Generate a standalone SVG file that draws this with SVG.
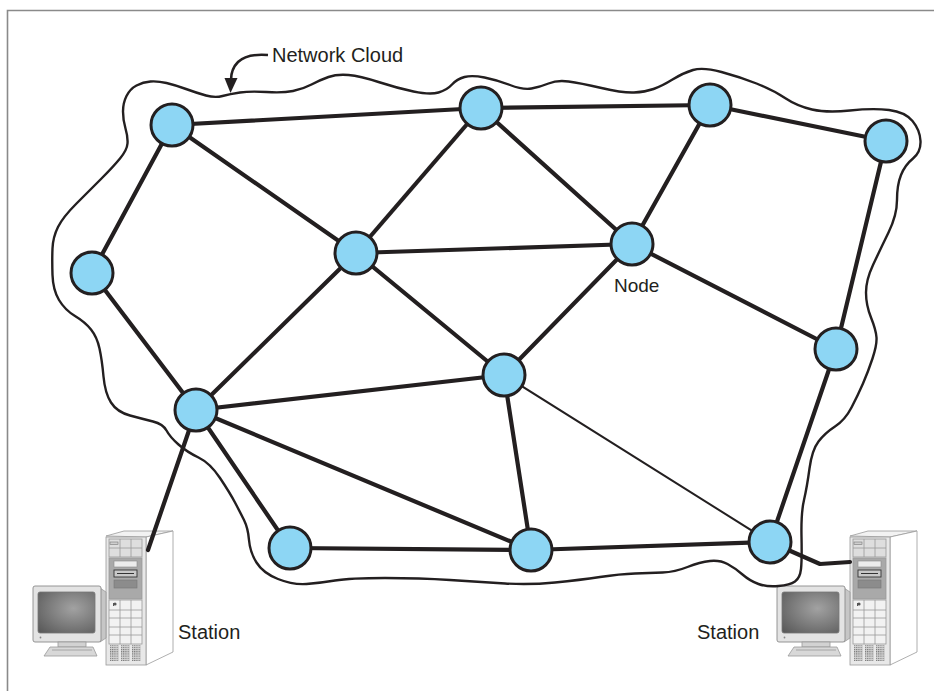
<svg xmlns="http://www.w3.org/2000/svg" xmlns:xlink="http://www.w3.org/1999/xlink" width="934" height="691" viewBox="0 0 934 691">
  <style>
    .edge { stroke: #231f20; stroke-width: 4.2; stroke-linecap: round; fill: none; }
    .edge-thin { stroke: #231f20; stroke-width: 2; stroke-linecap: round; fill: none; }
    .node circle { fill: #8dd6f4; stroke: #231f20; stroke-width: 3; }
    .cloud { fill: none; stroke: #231f20; stroke-width: 2.4; stroke-linejoin: round; }
    .label { font-family: "Liberation Sans", Arial, sans-serif; fill: #231f20; }
    .frame { stroke: #8a8a8a; stroke-width: 1.6; fill: none; }
    .pc-line { stroke: #9a9a9a; stroke-width: 0.8; }
  </style>
  <defs>
    <radialGradient id="screen" cx="0.62" cy="0.4" r="0.85">
      <stop offset="0" stop-color="#a2a2a2"/>
      <stop offset="1" stop-color="#565656"/>
    </radialGradient>
    <pattern id="vent" width="2.2" height="2.2" patternUnits="userSpaceOnUse">
      <rect width="2.2" height="2.2" fill="#d4d4d4"/>
      <rect width="1.1" height="1.1" fill="#6e6e6e"/>
    </pattern>
    <!-- desktop computer: CRT monitor beside a tower case -->
    <g id="pc">
      <!-- tower top and side -->
      <polygon points="106,536 124,531 173,531 146,537" fill="#f2f2f2" class="pc-line"/>
      <polygon points="146,537 173,531 173,652 146,665" fill="#ffffff" class="pc-line"/>
      <!-- tower front -->
      <rect x="106" y="537" width="40" height="128" fill="#e8e8e8" class="pc-line"/>
      <rect x="109" y="539" width="33" height="18" fill="#dedede" class="pc-line"/>
      <line x1="120" y1="539" x2="120" y2="557" class="pc-line"/>
      <line x1="131" y1="539" x2="131" y2="557" class="pc-line"/>
      <line x1="109" y1="548" x2="142" y2="548" class="pc-line"/>
      <rect x="110" y="542" width="8" height="2.5" fill="#cfcfcf" stroke="#777" stroke-width="0.6"/>
      <rect x="109" y="558" width="33" height="41" fill="#a9a9a9" class="pc-line"/>
      <rect x="114" y="561" width="23" height="6" fill="#ececec" stroke="#8a8a8a" stroke-width="0.6"/>
      <rect x="114" y="570" width="23" height="7" fill="#c9c9c9" stroke="#333" stroke-width="0.9"/>
      <line x1="117" y1="573.5" x2="134" y2="573.5" stroke="#333" stroke-width="1"/>
      <rect x="114" y="580" width="23" height="8" fill="#8c8c8c" stroke="#777" stroke-width="0.6"/>
      <rect x="109" y="600" width="33" height="44" fill="#f2f2f2" class="pc-line"/>
      <line x1="120" y1="600" x2="120" y2="644" class="pc-line"/>
      <line x1="131" y1="600" x2="131" y2="644" class="pc-line"/>
      <line x1="109" y1="610" x2="142" y2="610" class="pc-line"/>
      <line x1="109" y1="618" x2="142" y2="618" class="pc-line"/>
      <line x1="109" y1="627" x2="142" y2="627" class="pc-line"/>
      <line x1="109" y1="635" x2="142" y2="635" class="pc-line"/>
      <circle cx="115" cy="604" r="1.6" fill="#555"/>
      <rect x="113" y="603" width="1" height="3" fill="#555"/>
      <rect x="110" y="645" width="9" height="16" fill="url(#vent)"/>
      <rect x="121" y="645" width="9" height="16" fill="url(#vent)"/>
      <rect x="132" y="645" width="9" height="16" fill="url(#vent)"/>
      <!-- monitor -->
      <polygon points="100,588 106,592 106,638 100,642" fill="#c6c6c6" class="pc-line"/>
      <rect x="33" y="586" width="68" height="56" rx="2" fill="#e3e3e3" stroke="#8a8a8a" stroke-width="0.9"/>
      <rect x="38" y="592" width="57" height="41" rx="2" fill="url(#screen)" stroke="#777" stroke-width="0.8"/>
      <circle cx="40.5" cy="637.5" r="0.9" fill="#888"/>
      <rect x="58" y="642" width="28" height="5" fill="#d2d2d2" class="pc-line"/>
      <polygon points="50,647 93,647 97,656 44,656" fill="#d8d8d8" class="pc-line"/>
      <line x1="52" y1="650" x2="92" y2="650" class="pc-line"/>
    </g>
  </defs>

  <!-- page frame -->
  <path class="frame" d="M7.5,691 V10.5 H934"/>

  <!-- stations -->
  <g id="station-left">
    <use xlink:href="#pc" href="#pc"/>
    <text class="label" x="178" y="639" font-size="20">Station</text>
  </g>
  <g id="station-right">
    <use xlink:href="#pc" href="#pc" transform="translate(744,0)"/>
    <text class="label" x="697" y="639" font-size="20">Station</text>
  </g>

  <!-- network cloud boundary -->
  <g id="network-cloud">
    <path class="cloud" d="M123,111.5 Q123,103 126.5,96 Q130,89 136.5,85.5 Q143,82 150.5,81.5 Q158,81 166.5,83 Q175,85 186,89 Q197,93 206,95.5 Q215,98 222.5,96 Q230,94 240,92.5 Q250,91 266.5,92 Q283,93 293,91 Q303,89 311.5,84.5 Q320,80 328.5,77 Q337,74 348.5,75 Q360,76 378.5,82 Q397,88 413.5,91.5 Q430,95 438.5,92.5 Q447,90 452,84.5 Q457,79 464.5,77 Q472,75 484.5,77.5 Q497,80 510,85 Q523,90 531.5,88.5 Q540,87 548.5,83.5 Q557,80 568.5,81.5 Q580,83 601.5,88 Q623,93 634,92.5 Q645,92 653.5,89 Q662,86 672.5,79.5 Q683,73 693,70 Q703,67 721.5,72 Q740,77 756.5,83.5 Q773,90 785,98 Q797,106 812,109.5 Q827,113 850,110.5 Q873,108 889,110 Q905,112 912.5,121 Q920,130 920.5,141 Q921,152 913,158.5 Q905,165 901,175 Q897,185 897,200 Q897,215 888.5,232.5 Q880,250 873,265 Q866,280 866,292.5 Q866,305 871,317.5 Q876,330 876.5,337.5 Q877,345 872.5,358.5 Q868,372 863,383.5 Q858,395 851.5,407.5 Q845,420 835,426.5 Q825,433 818.5,441.5 Q812,450 809.5,468.5 Q807,487 804,500 Q801,513 801.5,536.5 Q802,560 801,569 Q800,578 795,581.5 Q790,585 778.5,586 Q767,587 758.5,584 Q750,581 742.5,574.5 Q735,568 727.5,564 Q720,560 710,561 Q700,562 687.5,567 Q675,572 662.5,572.5 Q650,573 635,573.5 Q620,574 600,577 Q580,580 555,582.5 Q530,585 505,583.5 Q480,582 450,580 Q420,578 385,578 Q350,578 335,580.5 Q320,583 306.5,584 Q293,585 278,579 Q263,573 256.5,562.5 Q250,552 249,540 Q248,528 244,520 Q240,512 235,502.5 Q230,493 220,478 Q210,463 198.5,457.5 Q187,452 178.5,444.5 Q170,437 166.5,430.5 Q163,424 153,421.5 Q143,419 130,415.5 Q117,412 111,402.5 Q105,393 103.5,376.5 Q102,360 99.5,348.5 Q97,337 91,329.5 Q85,322 75,316 Q65,310 59,300 Q53,290 52.5,275 Q52,260 52.5,248.5 Q53,237 58,227 Q63,217 76.5,203.5 Q90,190 101.5,178.5 Q113,167 120,158.5 Q127,150 127.5,143.5 Q128,137 125.5,128.5 Q123,120 123,111.5 Z"/>
    <path d="M268,55 C255,54 244,56 238,62 C233,67 231,73 231,80" fill="none" stroke="#231f20" stroke-width="2.6"/>
    <polygon points="224.5,78 237.5,78 230.5,93" fill="#231f20"/>
    <text class="label" x="272" y="62" font-size="20">Network Cloud</text>
  </g>

  <!-- links -->
  <g id="connectors">
    <line class="edge" x1="172" y1="125" x2="481" y2="108"/>
    <line class="edge" x1="481" y1="108" x2="710" y2="105"/>
    <line class="edge" x1="710" y1="105" x2="886" y2="141"/>
    <line class="edge" x1="172" y1="125" x2="92" y2="273"/>
    <line class="edge" x1="172" y1="125" x2="356" y2="253"/>
    <line class="edge" x1="481" y1="108" x2="356" y2="253"/>
    <line class="edge" x1="481" y1="108" x2="632" y2="244"/>
    <line class="edge" x1="710" y1="105" x2="632" y2="244"/>
    <line class="edge" x1="356" y1="253" x2="632" y2="244"/>
    <line class="edge" x1="886" y1="141" x2="836" y2="349"/>
    <line class="edge" x1="632" y1="244" x2="836" y2="349"/>
    <line class="edge" x1="632" y1="244" x2="504" y2="375"/>
    <line class="edge" x1="356" y1="253" x2="504" y2="375"/>
    <line class="edge" x1="356" y1="253" x2="196" y2="410"/>
    <line class="edge" x1="92" y1="273" x2="196" y2="410"/>
    <line class="edge" x1="196" y1="410" x2="504" y2="375"/>
    <line class="edge" x1="196" y1="410" x2="290" y2="548"/>
    <line class="edge" x1="196" y1="410" x2="531" y2="550"/>
    <line class="edge" x1="290" y1="548" x2="531" y2="550"/>
    <line class="edge" x1="504" y1="375" x2="531" y2="550"/>
    <line class="edge" x1="531" y1="550" x2="770" y2="542"/>
    <line class="edge" x1="836" y1="349" x2="770" y2="542"/>
    <line class="edge-thin" x1="504" y1="375" x2="770" y2="542"/>
    <line class="edge" x1="196" y1="410" x2="148" y2="550"/>
    <polyline class="edge" points="770,542 820,564 850,562" stroke-linejoin="round"/>
  </g>

  <!-- switching nodes -->
  <g id="node-1" class="node"><circle cx="172" cy="125" r="21"/></g>
  <g id="node-2" class="node"><circle cx="481" cy="108" r="21"/></g>
  <g id="node-3" class="node"><circle cx="710" cy="105" r="21"/></g>
  <g id="node-4" class="node"><circle cx="886" cy="141" r="21"/></g>
  <g id="node-5" class="node"><circle cx="92" cy="273" r="21"/></g>
  <g id="node-6" class="node"><circle cx="356" cy="253" r="21"/></g>
  <g id="node-7" class="node">
    <circle cx="632" cy="244" r="21"/>
    <text class="label" x="614" y="292" font-size="19">Node</text>
  </g>
  <g id="node-8" class="node"><circle cx="836" cy="349" r="21"/></g>
  <g id="node-9" class="node"><circle cx="504" cy="375" r="21"/></g>
  <g id="node-10" class="node"><circle cx="196" cy="410" r="21"/></g>
  <g id="node-11" class="node"><circle cx="290" cy="548" r="21"/></g>
  <g id="node-12" class="node"><circle cx="531" cy="550" r="21"/></g>
  <g id="node-13" class="node"><circle cx="770" cy="542" r="21"/></g>
</svg>
